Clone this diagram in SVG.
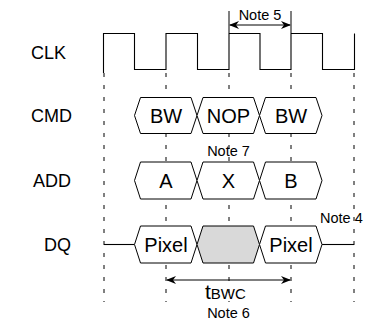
<svg xmlns="http://www.w3.org/2000/svg" width="366" height="325" viewBox="0 0 366 325">
<style>
.lbl{font-family:"Liberation Sans",Arial,sans-serif;font-size:18px;fill:#000}
.val{font-family:"Liberation Sans",Arial,sans-serif;font-size:20px;fill:#000;text-anchor:middle}
.note{font-family:"Liberation Sans",Arial,sans-serif;font-size:14.5px;fill:#000;text-anchor:middle}
.t{font-family:"Liberation Sans",Arial,sans-serif;font-size:21px;fill:#000}
.sub{font-size:15px}
.dash{stroke:#000;stroke-width:1;stroke-dasharray:4,8;fill:none}
.wave{stroke:#000;stroke-width:1.1;fill:none}
.hex{stroke:#000;stroke-width:1;fill:#fff}
.gray{fill:#d9d9d9}
.arr{stroke:#000;stroke-width:1;fill:none}
</style>
<defs>
<marker id="ah" markerWidth="10" markerHeight="8" refX="9" refY="4" orient="auto-start-reverse" markerUnits="userSpaceOnUse">
<path d="M0,0 L10,4 L0,8 L3,4 Z" fill="#000"/>
</marker>
</defs>
<g id="connectors">
<line class="dash" x1="104" y1="73" x2="104" y2="302"/>
<line class="dash" x1="166" y1="73" x2="166" y2="302"/>
<line class="dash" x1="229" y1="73" x2="229" y2="302"/>
<line class="dash" x1="291" y1="73" x2="291" y2="302"/>
<line class="dash" x1="354" y1="73" x2="354" y2="302"/>
<line class="arr" x1="229" y1="11" x2="229" y2="33"/>
<line class="arr" x1="291" y1="11" x2="291" y2="33"/>
<line class="arr" x1="230" y1="25" x2="290" y2="25" marker-start="url(#ah)" marker-end="url(#ah)"/>
<line class="arr" x1="167" y1="280" x2="290" y2="280" marker-start="url(#ah)" marker-end="url(#ah)"/>
<line class="wave" x1="104" y1="244.5" x2="134.5" y2="244.5"/>
<line class="wave" x1="322" y1="244.5" x2="354" y2="244.5"/>
</g>
<g id="clk">
<text class="lbl" x="31" y="58.5">CLK</text>
<path class="wave" d="M103.5,73 V33.5 H134.5 V69.5 H166 V33.5 H197.5 V69.5 H229 V33.5 H260 V69.5 H291 V33.5 H322.5 V69.5 H354.5 V33.5"/>
</g>
<g id="cmd">
<text class="lbl" x="31" y="122">CMD</text>
<path class="hex" d="M134.5,115.5 L140.5,97.5 H191 L197,115.5 L191,133.5 H140.5 Z"/>
<path class="hex" d="M197,115.5 L203,97.5 H253.5 L259.5,115.5 L253.5,133.5 H203 Z"/>
<path class="hex" d="M259.5,115.5 L265.5,97.5 H316 L322,115.5 L316,133.5 H265.5 Z"/>
<text class="val" x="166" y="122.5">BW</text>
<text class="val" x="228.5" y="122.5">NOP</text>
<text class="val" x="291" y="122.5">BW</text>
</g>
<g id="note7">
<text class="note" x="228.5" y="156">Note 7</text>
</g>
<g id="add">
<text class="lbl" x="33" y="187">ADD</text>
<path class="hex" d="M134.5,180.5 L140.5,162 H191 L197,180.5 L191,199 H140.5 Z"/>
<path class="hex" d="M197,180.5 L203,162 H253.5 L259.5,180.5 L253.5,199 H203 Z"/>
<path class="hex" d="M259.5,180.5 L265.5,162 H316 L322,180.5 L316,199 H265.5 Z"/>
<text class="val" x="166" y="187.5">A</text>
<text class="val" x="228.5" y="187.5">X</text>
<text class="val" x="291" y="187.5">B</text>
</g>
<g id="dq">
<text class="lbl" x="44" y="251">DQ</text>
<path class="hex" d="M134.5,244.5 L140.5,226 H191 L197,244.5 L191,263 H140.5 Z"/>
<path class="hex gray" d="M197,244.5 L203,226 H253.5 L259.5,244.5 L253.5,263 H203 Z"/>
<path class="hex" d="M259.5,244.5 L265.5,226 H316 L322,244.5 L316,263 H265.5 Z"/>
<text class="val" x="166" y="251.5">Pixel</text>
<text class="val" x="291" y="251.5">Pixel</text>
</g>
<g id="note4">
<text class="note" x="320" y="222.5" style="text-anchor:start">Note 4</text>
</g>
<g id="note5">
<text class="note" x="260" y="19.5">Note 5</text>
</g>
<g id="tbwc">
<text class="t" x="205" y="299">t<tspan class="sub">BWC</tspan></text>
<text class="note" x="228.5" y="318">Note 6</text>
</g>
</svg>
